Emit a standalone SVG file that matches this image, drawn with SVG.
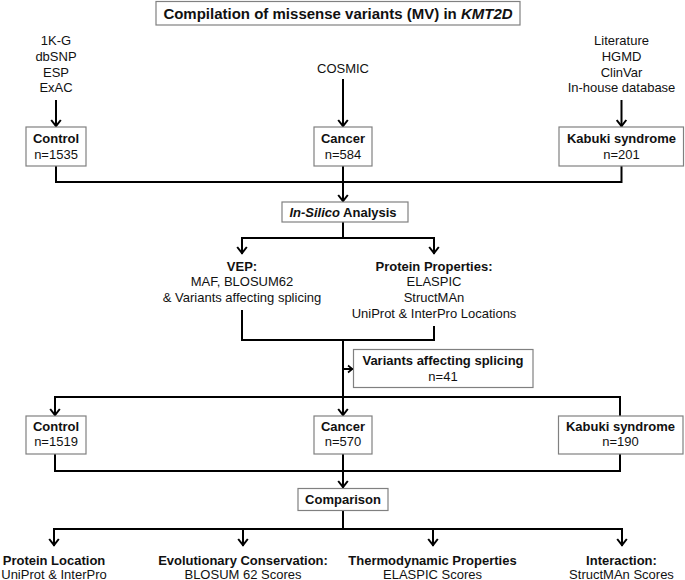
<svg xmlns="http://www.w3.org/2000/svg" width="685" height="580" viewBox="0 0 685 580">
<defs>
<style>
text{font-family:"Liberation Sans",Arial,sans-serif;font-size:13px;fill:#111;text-anchor:middle}
.b{font-weight:bold}
.i{font-style:italic}
.t{font-size:15px;font-weight:bold}
.box{fill:#fff;stroke:#808080;stroke-width:1.2}
.c{fill:none;stroke:#000;stroke-width:2}
</style>
<marker id="arr" markerUnits="userSpaceOnUse" viewBox="-10 -6 12 12" refX="0" refY="0" markerWidth="12" markerHeight="12" orient="auto">
<path d="M-7,-4.8 L-0.8,0 L-7,4.8" fill="none" stroke="#000" stroke-width="2"/>
</marker>
<marker id="arrs" markerUnits="userSpaceOnUse" viewBox="-8 -5 10 10" refX="0" refY="0" markerWidth="10" markerHeight="10" orient="auto">
<path d="M-5,-3.5 L-0.6,0 L-5,3.5" fill="none" stroke="#000" stroke-width="1.6"/>
</marker>
</defs>
<rect width="685" height="580" fill="#fff"/>

<g id="connectors">
<line class="c" x1="56" y1="100" x2="56" y2="127" marker-end="url(#arr)"/>
<line class="c" x1="343" y1="79" x2="343" y2="127" marker-end="url(#arr)"/>
<line class="c" x1="621.5" y1="100" x2="621.5" y2="127" marker-end="url(#arr)"/>
<polyline class="c" points="56,166 56,182 621.5,182 621.5,166"/>
<line class="c" x1="343" y1="166" x2="343" y2="202" marker-end="url(#arr)"/>
<line class="c" x1="343" y1="222" x2="343" y2="238"/>
<line class="c" x1="242" y1="238" x2="434" y2="238"/>
<line class="c" x1="242" y1="237" x2="242" y2="254" marker-end="url(#arr)"/>
<line class="c" x1="434" y1="237" x2="434" y2="254" marker-end="url(#arr)"/>
<polyline class="c" points="242,310 242,340 434,340 434,326"/>
<line class="c" x1="343" y1="340" x2="343" y2="397"/>
<line class="c" x1="343" y1="369" x2="353" y2="369" marker-end="url(#arrs)"/>
<polyline class="c" points="55,416 55,397 620,397 620,416"/>
<line class="c" x1="55" y1="397" x2="55" y2="416" marker-end="url(#arr)"/>
<line class="c" x1="343" y1="396" x2="343" y2="416" marker-end="url(#arr)"/>
<polyline class="c" points="55,454 55,471 620,471 620,454"/>
<line class="c" x1="343" y1="454" x2="343" y2="488" marker-end="url(#arr)"/>
<line class="c" x1="343" y1="510" x2="343" y2="529"/>
<line class="c" x1="54" y1="529" x2="622" y2="529"/>
<line class="c" x1="54" y1="528" x2="54" y2="546" marker-end="url(#arr)"/>
<line class="c" x1="243" y1="528" x2="243" y2="546" marker-end="url(#arr)"/>
<line class="c" x1="433" y1="528" x2="433" y2="546" marker-end="url(#arr)"/>
<line class="c" x1="622" y1="528" x2="622" y2="546" marker-end="url(#arr)"/>
</g>

<g id="title">
<rect class="box" x="156" y="1.5" width="364" height="23.5"/>
<text class="t" x="338" y="18.5">Compilation of missense variants (MV) in <tspan class="i">KMT2D</tspan></text>
</g>

<g id="src-control">
<text x="56" y="45">1K-G</text>
<text x="56" y="60.8">dbSNP</text>
<text x="56" y="76.6">ESP</text>
<text x="56" y="92.4">ExAC</text>
</g>
<g id="src-cancer">
<text x="343" y="73">COSMIC</text>
</g>
<g id="src-kabuki">
<text x="621.5" y="45">Literature</text>
<text x="621.5" y="60.8">HGMD</text>
<text x="621.5" y="76.6">ClinVar</text>
<text x="621.5" y="92.2">In-house database</text>
</g>

<g id="control1">
<rect class="box" x="26" y="127" width="60" height="39"/>
<text class="b" x="56" y="143.3">Control</text>
<text x="56" y="158.5">n=1535</text>
</g>
<g id="cancer1">
<rect class="box" x="314" y="127" width="58" height="39"/>
<text class="b" x="343" y="143.3">Cancer</text>
<text x="343" y="158.5">n=584</text>
</g>
<g id="kabuki1">
<rect class="box" x="559" y="127" width="124.5" height="39"/>
<text class="b" x="621.5" y="143.3">Kabuki syndrome</text>
<text x="621.5" y="158.5">n=201</text>
</g>

<g id="insilico">
<rect class="box" x="282" y="202" width="126" height="20"/>
<text class="b" x="343" y="216.5"><tspan class="i">In-Silico</tspan> Analysis</text>
</g>

<g id="vep">
<text class="b" x="242" y="270.5">VEP:</text>
<text x="242" y="286.3">MAF, BLOSUM62</text>
<text x="242" y="302">&amp; Variants affecting splicing</text>
</g>
<g id="protein">
<text class="b" x="434" y="270.5">Protein Properties:</text>
<text x="434" y="286.3">ELASPIC</text>
<text x="434" y="302">StructMAn</text>
<text x="434" y="318">UniProt &amp; InterPro Locations</text>
</g>

<g id="splicing">
<rect class="box" x="353.5" y="349.5" width="179.5" height="38"/>
<text class="b" x="443" y="365.3">Variants affecting splicing</text>
<text x="443" y="380.5">n=41</text>
</g>

<g id="control2">
<rect class="box" x="26" y="416" width="60" height="38"/>
<text class="b" x="56" y="431">Control</text>
<text x="56" y="446">n=1519</text>
</g>
<g id="cancer2">
<rect class="box" x="314" y="416" width="58" height="38"/>
<text class="b" x="343" y="431">Cancer</text>
<text x="343" y="446">n=570</text>
</g>
<g id="kabuki2">
<rect class="box" x="558.5" y="416" width="124.5" height="38"/>
<text class="b" x="620.5" y="431">Kabuki syndrome</text>
<text x="620.5" y="446">n=190</text>
</g>

<g id="comparison">
<rect class="box" x="298" y="488.5" width="90" height="22"/>
<text class="b" x="343" y="504">Comparison</text>
</g>

<g id="out-location">
<text class="b" x="54" y="564.8">Protein Location</text>
<text x="54" y="578.5">UniProt &amp; InterPro</text>
</g>
<g id="out-conservation">
<text class="b" x="243" y="564.8">Evolutionary Conservation:</text>
<text x="243" y="578.5">BLOSUM 62 Scores</text>
</g>
<g id="out-thermo">
<text class="b" x="432.5" y="564.8">Thermodynamic Properties</text>
<text x="432.5" y="578.5">ELASPIC Scores</text>
</g>
<g id="out-interaction">
<text class="b" x="621.5" y="564.8">Interaction:</text>
<text x="621.5" y="578.5">StructMAn Scores</text>
</g>
</svg>
